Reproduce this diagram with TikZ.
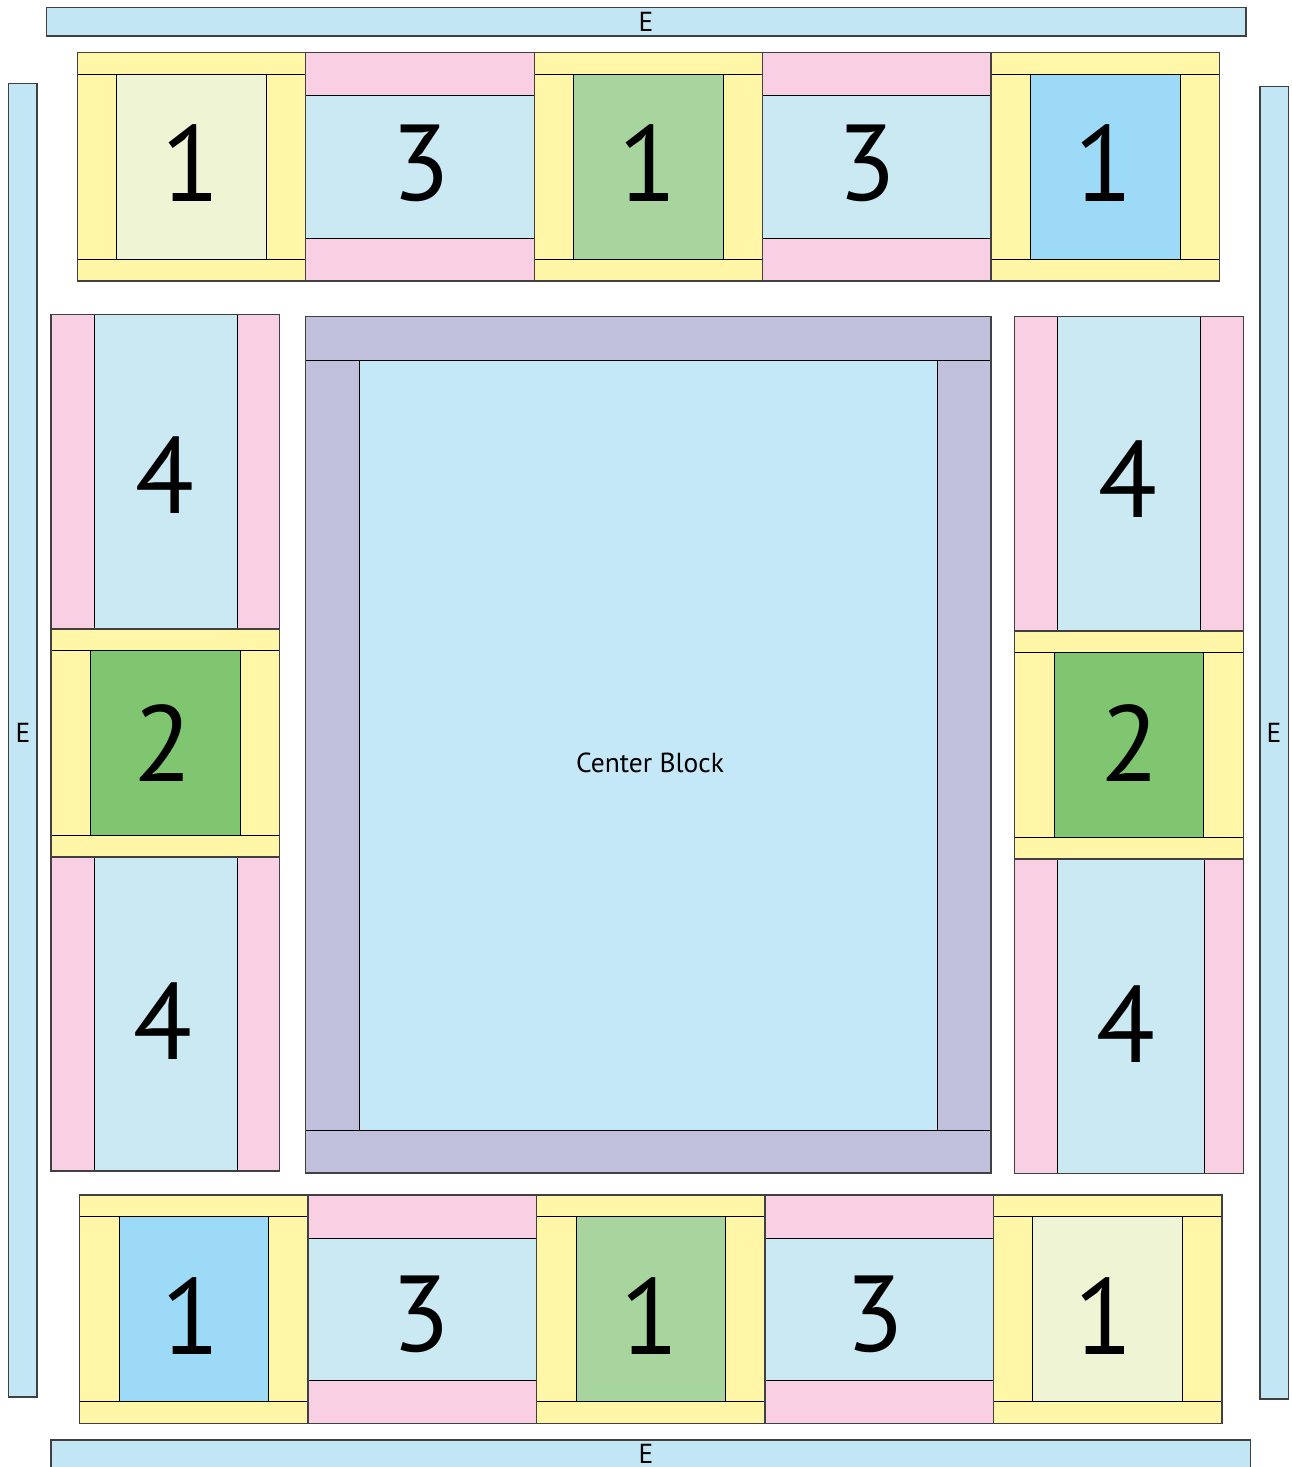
\documentclass[tikz,border=0pt]{standalone}
\usepackage{fontspec}
\setmainfont{PT Sans}
\definecolor{ebarc}{HTML}{C3E6F4}
\definecolor{yellowc}{HTML}{FFF6A8}
\definecolor{pinkc}{HTML}{F9CFE3}
\definecolor{lbluec}{HTML}{CAE9F3}
\definecolor{palegreen}{HTML}{EEF4D4}
\definecolor{midgreen}{HTML}{A8D59D}
\definecolor{skyblue}{HTML}{9CDAF7}
\definecolor{darkgreen}{HTML}{80C56F}
\definecolor{lavender}{HTML}{C0C0DC}
\definecolor{centerc}{HTML}{C4E8F8}
\tikzset{
  outer/.style={draw=black!75, line width=1.3bp},
  inner/.style={draw=black, line width=1bp},
  digit/.style={font=\fontsize{108bp}{108bp}\selectfont, inner sep=0pt},
  lbl/.style={font=\fontsize{27.5bp}{27.5bp}\selectfont, inner sep=0pt},
}
% square block: x0,x1,x2,x3,y0,y1,y2,y3,center colour
\newcommand{\sqblock}[9]{%
  \fill[yellowc] (#1,#5) rectangle (#4,#8);
  \draw[inner] (#1,#6) -- (#4,#6) (#1,#7) -- (#4,#7);
  \filldraw[fill=#9, inner] (#2,#6) rectangle (#3,#7);
  \draw[outer] (#1,#5) rectangle (#4,#8);
}
% horizontal stripe block: x0,x1,y0,y1,y2,y3
\newcommand{\hstripe}[6]{%
  \fill[pinkc] (#1,#3) rectangle (#2,#6);
  \filldraw[fill=lbluec, inner] (#1,#4) rectangle (#2,#5);
  \draw[outer] (#1,#3) rectangle (#2,#6);
}
% vertical stripe block: x0,x1,x2,x3,y0,y1
\newcommand{\vstripe}[6]{%
  \fill[pinkc] (#1,#5) rectangle (#4,#6);
  \filldraw[fill=lbluec, inner] (#2,#5) rectangle (#3,#6);
  \draw[outer] (#1,#5) rectangle (#4,#6);
}
\begin{document}
\begin{tikzpicture}[x=1bp,y=-1bp]
\useasboundingbox (0,0) rectangle (1291,1467);
% E bars
\filldraw[fill=ebarc, outer] (46.7,7.5) rectangle (1246,36);
\filldraw[fill=ebarc, outer] (8.3,83.7) rectangle (37,1397);
\filldraw[fill=ebarc, outer] (1260,86.7) rectangle (1288.7,1399);
\filldraw[fill=ebarc, outer] (51,1440) rectangle (1250.3,1472);
% top row
\sqblock{77.3}{116.7}{266.7}{305.7}{52.7}{74.3}{259.3}{281}{palegreen}
\hstripe{305.7}{534.3}{52.7}{96}{238.7}{281}
\sqblock{534.3}{573.7}{723}{762.7}{52.7}{74.3}{259.3}{281}{midgreen}
\hstripe{762.7}{991}{52.7}{96}{238.7}{281}
\sqblock{991}{1030.3}{1180}{1219.6}{52.7}{74.3}{259.3}{281}{skyblue}
% bottom row
\sqblock{79.3}{119.3}{268.7}{308}{1195}{1216.3}{1401.7}{1423.3}{skyblue}
\hstripe{308}{536.5}{1195}{1238.3}{1380.7}{1423.3}
\sqblock{536.5}{576}{725.5}{765}{1195}{1216.3}{1401.7}{1423.3}{midgreen}
\hstripe{765}{993.6}{1195}{1238.3}{1380.7}{1423.3}
\sqblock{993.6}{1032.7}{1182.7}{1222}{1195}{1216.3}{1401.7}{1423.3}{palegreen}
% left column
\vstripe{51}{94.3}{237}{279.3}{314.3}{629}
\sqblock{51}{90.7}{240.3}{279.3}{629}{650.5}{835.3}{857}{darkgreen}
\vstripe{51}{94.3}{237}{279.3}{857}{1171}
% right column
\vstripe{1014.7}{1057.7}{1200.3}{1243.3}{316.7}{631}
\sqblock{1014.7}{1054.3}{1203.7}{1243.3}{631}{652.3}{837.7}{859}{darkgreen}
\vstripe{1014.7}{1057.7}{1204}{1243.3}{859}{1173.7}
% center block
\fill[lavender] (305.7,316.7) rectangle (991,1173);
\draw[inner] (305.7,360) -- (991,360) (305.7,1130.7) -- (991,1130.7);
\filldraw[fill=centerc, inner] (359.3,360) rectangle (937.7,1130.7);
\draw[outer] (305.7,316.7) rectangle (991,1173);
% labels
\node[lbl] (etop) at (646,22) {E};
\node[lbl] (eleft) at (23,733) {E};
\node[lbl] (eright) at (1274,733) {E};
\node[lbl] (ebot) at (646,1453.5) {E};
\node[lbl] (cb) at (650,763) {Center Block};
\node[digit] (t1) at (191,163) {1};
\node[digit] (t2) at (421,163) {3};
\node[digit] (t3) at (648,163) {1};
\node[digit] (t4) at (867,163) {3};
\node[digit] (t5) at (1104,163) {1};
\node[digit] (b1) at (191,1316) {1};
\node[digit] (b2) at (421,1314) {3};
\node[digit] (b3) at (650,1316) {1};
\node[digit] (b4) at (875,1314) {3};
\node[digit] (b5) at (1104,1316) {1};
\node[digit] (l1) at (165,475) {4};
\node[digit] (l2) at (163,743) {2};
\node[digit] (l3) at (163,1021) {4};
\node[digit] (r1) at (1128,479) {4};
\node[digit] (r2) at (1130,743) {2};
\node[digit] (r3) at (1126,1024) {4};
\end{tikzpicture}
\end{document}
